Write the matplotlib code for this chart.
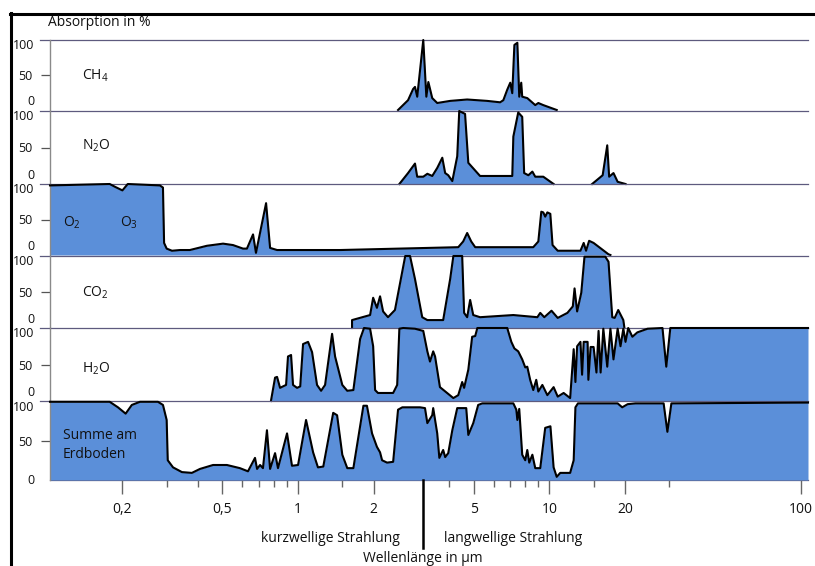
import numpy as np
import matplotlib
matplotlib.use('Agg')
import matplotlib.pyplot as plt
import matplotlib.transforms as mtransforms
from matplotlib.lines import Line2D
from matplotlib.ticker import FixedLocator, NullFormatter, NullLocator

# wavelength in um, absorption in %
ch4_wl = [2.50, 2.74, 2.87, 2.92, 2.98, 3.15, 3.24, 3.30, 3.42, 3.58, 4.03, 4.71, 5.66, 6.37, 6.56, 6.80,
          6.99, 7.12, 7.26, 7.46, 7.59, 7.73, 7.80, 8.17, 8.79, 9.04, 9.46, 10.7]
ch4_abs = [0, 14, 30, 33, 19, 100, 19, 40, 17, 10, 13, 15, 13, 11, 14, 29,
           39, 24, 93, 96, 19, 39, 19, 17, 7, 10, 7, 0]

n2o_wl = [2.53, 2.74, 2.92, 2.98, 3.15, 3.27, 3.42, 3.58, 3.75, 3.85, 3.96, 4.11, 4.30, 4.38, 4.62, 4.76,
          5.30, 7.12, 7.19, 7.52, 7.80, 7.94, 8.25, 8.56, 8.79, 9.46, 10.4, np.nan,
          14.8, 16.3, 17.0, 17.3, 18.0, 18.7, 20.1]
n2o_abs = [0, 15, 28, 10, 10, 14, 11, 22, 36, 15, 12, 4, 38, 100, 96, 29,
           11, 11, 65, 98, 92, 15, 12, 17, 10, 10, 0, np.nan,
           0, 12, 53, 10, 15, 3, 0]

o3_wl = [0.103, 0.178, 0.187, 0.200, 0.210, 0.282, 0.290, 0.293, 0.300, 0.315, 0.339, 0.371, 0.434, 0.503,
         0.551, 0.604, 0.626, 0.662, 0.680, 0.746, 0.774, 0.825, 1.47, 4.34, 4.54, 4.71, 4.89, 5.07, 8.63,
         9.04, 9.29, 9.46, 9.63, 9.82, 10.09, 10.3, 10.8, 13.3, 13.7, 14.0, 14.4, 15.0, 17.2, 17.5]
o3_abs = [98, 100, 96, 91, 100, 98, 95, 17, 9, 6, 7, 7, 13, 16,
          14, 9, 9, 29, 3, 73, 10, 7, 7, 11, 19, 31, 19, 11, 11,
          19, 61, 60, 54, 60, 58, 14, 6, 6, 17, 6, 20, 17, 1, 0]

co2_wl = [1.64, 1.64, 1.935, 1.99, 2.06, 2.12, 2.18, 2.28, 2.43, 2.67, 2.79, 2.92, 3.12, 3.27, 3.78, 4.03,
          4.15, 4.50, 4.58, 4.71, 4.84, 4.98, 5.30, 7.19, 8.96, 9.20, 9.55, 10.2, 10.8, 11.8, 12.4, 12.6,
          12.9, 13.4, 13.8, 16.7, 17.2, 17.8, 18.2, 18.8, 19.7, 19.9]
co2_abs = [0, 11, 18, 42, 28, 44, 23, 15, 25, 100, 100, 68, 15, 11, 11, 68,
           100, 100, 21, 15, 39, 18, 15, 18, 15, 21, 15, 24, 14, 21, 30, 55,
           23, 49, 99, 99, 92, 15, 14, 25, 11, 0]

h2o_wl = [0.780, 0.810, 0.825, 0.848, 0.871, 0.896, 0.912, 0.938, 0.955, 0.991, 1.02, 1.047, 1.096, 1.137,
          1.19, 1.235, 1.281, 1.366, 1.404, 1.50, 1.57, 1.66, 1.766, 1.83, 1.935, 1.99, 2.026, 2.08, 2.39,
          2.48, 2.53, 2.62, 2.92, 3.15, 3.27, 3.35, 3.45, 3.51, 3.67, 4.15, 4.34, 4.50, 4.58, 4.76, 4.93,
          5.07, 5.17, 6.80, 7.06, 7.26, 7.52, 7.80, 8.02, 8.17, 8.39, 8.63, 8.87, 9.04, 9.38, 9.82, 10.4,
          10.8, 11.4, 12.1, 12.5, 12.7, 12.9, 13.3, 13.5, 13.7, 14.2, 14.3, 14.6, 15.0, 15.4, 15.7, 16.0,
          16.4, 17.0, 17.5, 18.0, 18.7, 19.2, 19.7, 20.1, 20.6, 21.4, 22.4, 24.6, 28.2, 29.2, 30.3, 107]
h2o_abs = [0, 32, 33, 18, 20, 22, 61, 63, 22, 18, 20, 78, 81, 67,
           22, 14, 22, 92, 61, 22, 14, 15, 85, 100, 99, 75, 15, 11, 11,
           22, 99, 100, 99, 96, 68, 54, 68, 61, 19, 4, 8, 26, 18, 43, 88,
           89, 100, 100, 81, 72, 68, 57, 46, 47, 29, 15, 29, 13, 22, 8, 19,
           6, 11, 4, 71, 26, 75, 81, 36, 81, 81, 29, 74, 74, 39, 96, 39,
           99, 47, 99, 57, 99, 75, 99, 81, 100, 88, 94, 99, 100, 47, 100, 100]

sum_wl = [0.103, 0.178, 0.192, 0.206, 0.218, 0.235, 0.277, 0.290, 0.300, 0.303, 0.318, 0.345, 0.378, 0.407,
          0.459, 0.521, 0.587, 0.632, 0.674, 0.687, 0.706, 0.725, 0.752, 0.774, 0.810, 0.832, 0.904, 0.946,
          1.0, 1.076, 1.148, 1.20, 1.26, 1.38, 1.43, 1.50, 1.57, 1.66, 1.82, 1.88, 1.97, 2.06, 2.12, 2.16,
          2.26, 2.39, 2.50, 2.60, 3.06, 3.20, 3.27, 3.42, 3.45, 3.58, 3.65, 3.78, 3.85, 3.96, 4.11, 4.30,
          4.67, 4.76, 4.98, 5.21, 5.41, 7.19, 7.39, 7.46, 7.59, 7.80, 8.02, 8.17, 8.32, 8.56, 8.79, 9.20,
          9.63, 10.1, 10.4, 10.7, 11.05, 12.1, 12.5, 12.7, 13.0, 18.7, 19.5, 20.5, 22.0, 28.5, 29.5, 30.6, 107]
sum_abs = [99, 99, 92, 84, 95, 99, 99, 95, 76, 25, 16, 10, 9, 14,
           19, 19, 15, 11, 28, 14, 19, 15, 63, 14, 34, 15, 59, 18,
           19, 76, 35, 16, 17, 85, 82, 32, 15, 15, 94, 94, 59, 42, 35, 25,
           22, 23, 89, 92, 92, 91, 72, 82, 91, 59, 28, 38, 29, 34, 63, 91,
           91, 57, 72, 95, 97, 97, 89, 76, 90, 32, 25, 38, 22, 32, 15, 15,
           66, 68, 16, 4, 9, 9, 25, 92, 97, 97, 92, 96, 97, 97, 61, 97, 98]

panel_wl = [ch4_wl, n2o_wl, o3_wl, co2_wl, h2o_wl, sum_wl]
panel_abs = [ch4_abs, n2o_abs, o3_abs, co2_abs, h2o_abs, sum_abs]

xtick_vals = [0.2, 0.5, 1, 2, 5, 10, 20, 100]
xtick_labels = ['0,2', '0,5', '1', '2', '5', '10', '20', '100']
xminor_vals = [0.3, 0.4, 0.6, 0.7, 0.8, 0.9, 1.5, 4, 6, 7, 8, 9, 15, 30]
boundary_wl = 3.15

plt.rcParams['font.family'] = ['Open Sans', 'DejaVu Sans']
plt.rcParams['mathtext.default'] = 'regular'

W, H = 815, 566
blue = '#5b8fd9'
gridc = '#5d5a7e'
txt = '#111111'


def fx(px):
    return px / W


def fy(py):
    return 1 - py / H


fig = plt.figure(figsize=(W / 100, H / 100), dpi=100)

panel_px = [(40, 110), (111, 184), (184, 255), (256, 328), (328, 401), (401, 480)]
left, right = 50, 808

axes = []
for i, (top, bot) in enumerate(panel_px):
    ax = fig.add_axes([fx(left), fy(bot), (right - left) / W, (bot - top) / H])
    ax.set_xscale('log')
    ax.set_xlim(0.103, 107)
    ax.set_ylim(0, 100)
    ax.patch.set_alpha(0)
    for s in ['top', 'right', 'bottom']:
        ax.spines[s].set_visible(False)
    ax.spines['left'].set_color('#8a8a8a')
    ax.spines['left'].set_linewidth(1.0)

    wl = np.array(panel_wl[i], dtype=float)
    ab = np.array(panel_abs[i], dtype=float)
    ax.fill_between(wl, ab, color=blue, lw=0, zorder=2)
    ax.plot(wl, ab, color='black', lw=1.5, clip_on=False, zorder=3, solid_joinstyle='round')

    ax.axhline(100, xmin=-0.013, xmax=1, color=gridc, lw=0.9, clip_on=False, zorder=1)
    if i == len(panel_px) - 1:
        ax.axhline(0, xmin=0, xmax=1, color=gridc, lw=0.9, clip_on=False, zorder=1)

    ax.set_yticks([50])
    ax.set_yticklabels(['50'])
    ax.tick_params(axis='y', direction='out', length=6.5, width=0.9, color='#555555',
                   pad=6, labelsize=9, labelcolor=txt)

    trans = mtransforms.blended_transform_factory(ax.transAxes, ax.transData)
    ax.text(-0.021, 92, '100', transform=trans, ha='right', va='center', fontsize=9, color=txt)
    zero_y = 0 if i == len(panel_px) - 1 else 12
    ax.text(-0.021, zero_y, '0', transform=trans, ha='right', va='center', fontsize=9, color=txt)

    if i < len(panel_px) - 1:
        ax.xaxis.set_major_locator(NullLocator())
        ax.xaxis.set_minor_locator(NullLocator())
    axes.append(ax)

ax = axes[-1]
ax.xaxis.set_major_locator(FixedLocator(xtick_vals))
ax.xaxis.set_minor_locator(FixedLocator(xminor_vals))
ax.set_xticklabels(xtick_labels)
ax.xaxis.set_minor_formatter(NullFormatter())
ax.tick_params(axis='x', which='major', direction='out', length=10, width=1, color='#666666',
               pad=6, labelsize=10, labelcolor=txt)
ax.tick_params(axis='x', which='minor', direction='out', length=5, width=1, color='#666666')
ax.axvline(boundary_wl, ymin=-0.86, ymax=0, color='black', lw=1.8, clip_on=False)

fig.text(fx(48), fy(22), 'Absorption in %', fontsize=10, va='center', ha='left', color=txt)
fig.text(fx(82), fy(76), 'CH$_4$', fontsize=10, va='center', color=txt)
fig.text(fx(82), fy(146), 'N$_2$O', fontsize=10, va='center', color=txt)
fig.text(fx(63), fy(223), 'O$_2$', fontsize=10, va='center', color=txt)
fig.text(fx(120), fy(223), 'O$_3$', fontsize=10, va='center', color=txt)
fig.text(fx(82), fy(293), 'CO$_2$', fontsize=10, va='center', color=txt)
fig.text(fx(82), fy(369), 'H$_2$O', fontsize=10, va='center', color=txt)
fig.text(fx(63), fy(445), 'Summe am\nErdboden', fontsize=10, va='center', linespacing=1.35, color=txt)

fig.text(fx(330), fy(538), 'kurzwellige Strahlung', fontsize=10, ha='center', va='center', color=txt)
fig.text(fx(513), fy(538), 'langwellige Strahlung', fontsize=10, ha='center', va='center', color=txt)
fig.text(fx(423), fy(559), 'Wellenlänge in µm', fontsize=10, ha='center', va='center', color=txt)

fig.add_artist(Line2D([fx(10), 1], [fy(13.5), fy(13.5)], color='black', lw=2.2))
fig.add_artist(Line2D([fx(11), fx(11)], [fy(12.5), 0], color='black', lw=2.2))

fig.savefig('out.png', dpi=100)
